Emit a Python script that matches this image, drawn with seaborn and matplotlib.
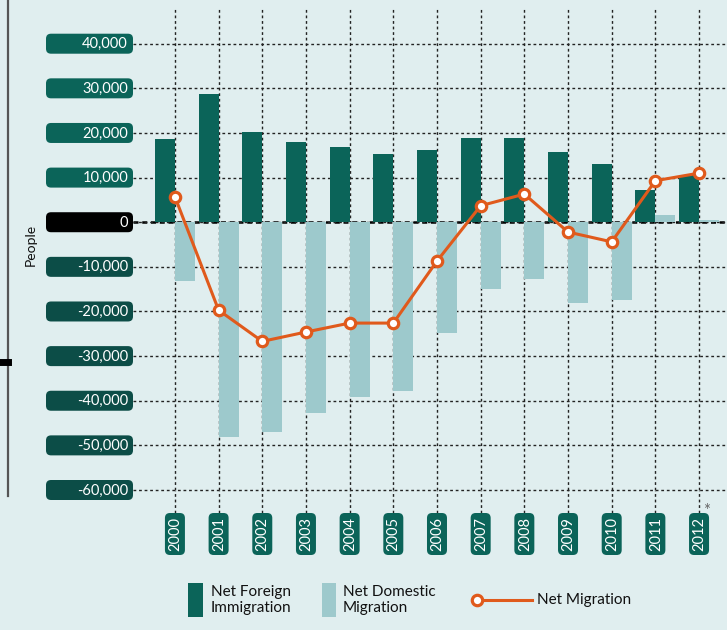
import numpy as np
import pandas as pd
import seaborn as sns
import matplotlib.pyplot as plt
from matplotlib.patches import FancyBboxPatch, Rectangle
from matplotlib.lines import Line2D
from matplotlib.transforms import blended_transform_factory

# 数据
years = ['2000', '2001', '2002', '2003', '2004', '2005', '2006',
         '2007', '2008', '2009', '2010', '2011', '2012']
foreign = [18700, 28800, 20200, 18000, 16900, 15300, 16200,
           18900, 18900, 15800, 13100, 7200, 10600]
domestic = [-13200, -48200, -47000, -42800, -39200, -37800, -24800,
            -15000, -12700, -18100, -17400, 1600, 500]
net = [5700, -19700, -26700, -24600, -22600, -22600, -8700,
       3700, 6300, -2200, -4400, 9300, 11000]
yticks = [40000, 30000, 20000, 10000, 0, -10000, -20000,
          -30000, -40000, -50000, -60000]
series_names = ['Net Foreign\nImmigration', 'Net Domestic\nMigration']

bg = '#e0eeef'
dark = '#0b6459'
light = '#9dc9cc'
orange = '#e05a1c'

plt.rcParams['font.family'] = ['Lato', 'DejaVu Sans']

df = pd.DataFrame({
    'year': years * 2,
    'value': foreign + domestic,
    'series': [series_names[0]] * len(years) + [series_names[1]] * len(years),
})

fig = plt.figure(figsize=(7.27, 6.30), dpi=100, facecolor=bg)
ax = fig.add_axes([133 / 727, 1 - 490 / 630, 1 - 133 / 727, 482 / 630])
ax.set_facecolor(bg)

sns.barplot(data=df, x='year', y='value', hue='series', hue_order=series_names,
            palette=[dark, light], width=0.92, saturation=1, linewidth=0,
            legend=False, ax=ax)
sns.pointplot(x=years, y=net, color=orange, errorbar=None, ax=ax,
              markers='o', markersize=7.5, markerfacecolor='white',
              markeredgewidth=2.3, linewidth=2.2)

ax.set_xlim(-0.96, 12.64)
ax.set_ylim(-60000, 48000)
ax.set_yticks(yticks)
ax.set_xticks(range(len(years)))
ax.set_axisbelow(True)
ax.grid(True, color='#222222', linestyle=(0, (2, 2)), linewidth=1)
for gl in ax.get_ygridlines():
    gl.set_clip_on(False)
ax.axhline(0, color='black', linestyle=(0, (2, 1.5)), linewidth=1.8, zorder=0.5)
ax.tick_params(length=0, labelleft=False, labelbottom=False)
ax.set_xlabel('')
ax.set_ylabel('')
for s in ax.spines.values():
    s.set_visible(False)

# 网格线向下延伸到年份标签
ax.vlines(range(len(years)), -23 / 482, 0, color='#222222',
          linestyle=(0, (2, 2)), linewidth=1,
          transform=blended_transform_factory(ax.transData, ax.transAxes),
          clip_on=False)

inch = fig.dpi_scale_trans
to_inch = fig.dpi_scale_trans.inverted()

# y 轴标签框
for v in yticks:
    y_in = to_inch.transform(ax.transData.transform((0, v)))[1]
    fc = 'black' if v == 0 else (dark if v > 0 else '#0c4d47')
    fig.add_artist(FancyBboxPatch((0.46, y_in - 0.10), 0.87, 0.20,
                                  boxstyle='round,pad=0,rounding_size=0.05',
                                  fc=fc, ec='none', transform=inch))
    fig.text(1.28, y_in - 0.005, f'{v:,}', transform=inch, ha='right', va='center',
             color='white', fontsize=10.5)

# x 轴年份框
for i, yr in enumerate(years):
    x_in = to_inch.transform(ax.transData.transform((i, 0)))[0]
    fig.add_artist(FancyBboxPatch((x_in - 0.10, 0.75), 0.20, 0.42,
                                  boxstyle='round,pad=0,rounding_size=0.05',
                                  fc=dark, ec='none', transform=inch))
    fig.text(x_in + 0.005, 0.96, yr, transform=inch, ha='center', va='center',
             rotation=90, color='white', fontsize=10.5)

fig.text(7.07, 6.30 - 5.11, '*', transform=inch, ha='center', va='center',
         color='#666666', fontsize=12)

# 左侧装饰线
fig.add_artist(Line2D([0.08, 0.08], [6.30, 6.30 - 4.96], color='#555555',
                      linewidth=1.6, transform=inch))
fig.add_artist(Line2D([0.0, 0.08], [6.30 - 3.615, 6.30 - 3.615], color='black',
                      linewidth=5, transform=inch))
fig.text(0.31, 6.30 - 2.45, 'People', transform=inch, rotation=90,
         ha='center', va='center', fontsize=10, color='#111111')

# 图例
fig.add_artist(Rectangle((1.88, 6.30 - 6.17), 0.15, 0.34, fc=dark, ec='none',
                         transform=inch))
fig.text(2.11, 6.30 - 6.00, series_names[0], transform=inch, va='center',
         fontsize=11, color='#111111', linespacing=1.2)
fig.add_artist(Rectangle((3.22, 6.30 - 6.17), 0.14, 0.34, fc=light, ec='none',
                         transform=inch))
fig.text(3.43, 6.30 - 6.00, series_names[1], transform=inch, va='center',
         fontsize=11, color='#111111', linespacing=1.2)
fig.add_artist(Line2D([4.77, 5.32], [6.30 - 6.00, 6.30 - 6.00], color=orange,
                      linewidth=2.2, transform=inch))
fig.add_artist(Line2D([4.77], [6.30 - 6.00], color=orange, marker='o',
                      markersize=7.5, markerfacecolor='white', markeredgewidth=2.3,
                      transform=inch))
fig.text(5.37, 6.30 - 6.00, 'Net Migration', transform=inch, va='center',
         fontsize=11, color='#111111')

plt.savefig('out.png', dpi=100, facecolor=bg)
